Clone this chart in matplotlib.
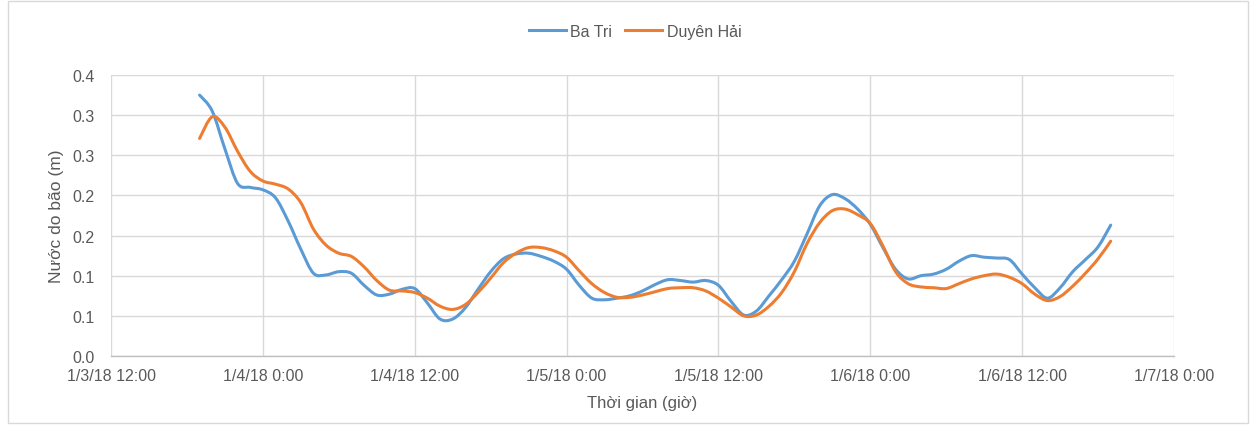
import matplotlib
matplotlib.use("Agg")
import matplotlib.pyplot as plt
import matplotlib.dates as mdates
from matplotlib.patches import Rectangle, PathPatch
from matplotlib.path import Path
from matplotlib.lines import Line2D
import numpy as np
import pandas as pd

# ---- data ----
series_names = ["Ba Tri", "Duyên Hải"]
start_time = "2018-01-03 19:00"
ba_tri = [0.325, 0.305, 0.258, 0.215, 0.210, 0.207, 0.197, 0.168, 0.133, 0.103,
          0.101, 0.105, 0.103, 0.088, 0.076, 0.077, 0.083, 0.084, 0.066, 0.046,
          0.046, 0.060, 0.083, 0.105, 0.121, 0.127, 0.128, 0.124, 0.118, 0.108,
          0.088, 0.072, 0.070, 0.072, 0.075, 0.081, 0.089, 0.095, 0.094, 0.092,
          0.094, 0.088, 0.068, 0.051, 0.056, 0.075, 0.095, 0.118, 0.152, 0.187,
          0.201, 0.196, 0.183, 0.164, 0.135, 0.108, 0.096, 0.100, 0.102, 0.108,
          0.118, 0.125, 0.123, 0.122, 0.120, 0.102, 0.085, 0.072, 0.085, 0.105,
          0.120, 0.136, 0.163]
duyen_hai = [0.271, 0.298, 0.285, 0.255, 0.230, 0.218, 0.214, 0.208, 0.191, 0.158,
             0.138, 0.128, 0.124, 0.111, 0.094, 0.082, 0.081, 0.079, 0.072, 0.062,
             0.058, 0.064, 0.079, 0.097, 0.116, 0.128, 0.135, 0.135, 0.131, 0.123,
             0.106, 0.090, 0.079, 0.073, 0.073, 0.076, 0.080, 0.084, 0.085, 0.085,
             0.081, 0.072, 0.061, 0.050, 0.051, 0.062, 0.079, 0.105, 0.140, 0.166,
             0.181, 0.183, 0.176, 0.165, 0.137, 0.105, 0.090, 0.086, 0.085, 0.084,
             0.090, 0.096, 0.100, 0.102, 0.098, 0.090, 0.077, 0.069, 0.074, 0.087,
             0.103, 0.121, 0.143]
x_ticks = ["2018-01-03 12:00", "2018-01-04 00:00", "2018-01-04 12:00", "2018-01-05 00:00",
           "2018-01-05 12:00", "2018-01-06 00:00", "2018-01-06 12:00", "2018-01-07 00:00"]
x_tick_labels = ["1/3/18 12:00", "1/4/18 0:00", "1/4/18 12:00", "1/5/18 0:00",
                 "1/5/18 12:00", "1/6/18 0:00", "1/6/18 12:00", "1/7/18 0:00"]
y_ticks = [0.0, 0.05, 0.10, 0.15, 0.20, 0.25, 0.30, 0.35]
y_tick_labels = ["0.0", "0.1", "0.1", "0.2", "0.2", "0.3", "0.3", "0.4"]
x_label = "Thời gian (giờ)"
y_label = "Nước do bão (m)"

# ---- plot ----
plt.rcParams['font.family'] = ['Liberation Sans', 'DejaVu Sans']
times = pd.date_range(start_time, periods=len(ba_tri), freq="h")
xt = pd.to_datetime(x_ticks)


def smooth_path(x, y):
    """Bezier path through the data points (Excel-style smoothed line)."""
    p = np.column_stack([x, y])
    n = len(p)
    verts = [p[0]]
    codes = [Path.MOVETO]
    for i in range(n - 1):
        p0 = p[i - 1] if i > 0 else p[i]
        p1 = p[i]
        p2 = p[i + 1]
        p3 = p[i + 2] if i + 2 < n else p[i + 1]
        c1 = p1 + (p2 - p0) / 6.0
        c2 = p2 - (p3 - p1) / 6.0
        verts += [c1, c2, p2]
        codes += [Path.CURVE4] * 3
    return Path(verts, codes)


fig = plt.figure(figsize=(12.5, 4.27), dpi=100)
ax = fig.add_axes([0.0888, 0.164, 0.9392 - 0.0888, 0.822 - 0.164])

colors = ["#5B9BD5", "#ED7D31"]
xnum = mdates.date2num(times)
handles = []
for name, vals, c in zip(series_names, [ba_tri, duyen_hai], colors):
    patch = PathPatch(smooth_path(xnum, np.asarray(vals)), facecolor="none",
                      edgecolor=c, lw=2.2, capstyle="round", joinstyle="round")
    ax.add_patch(patch)
    handles.append(Line2D([], [], color=c, lw=2.2, label=name))

ax.xaxis_date()
ax.set_xlim(xt[0], xt[-1])
ax.set_ylim(y_ticks[0], y_ticks[-1])
ax.set_xticks(xt)
ax.set_xticklabels(x_tick_labels)
ax.set_yticks(y_ticks)
ax.set_yticklabels(y_tick_labels)
ax.grid(True, color="#D9D9D9", lw=1.0)
ax.set_axisbelow(True)
for s in ["top", "right", "left"]:
    ax.spines[s].set_visible(False)
ax.spines["bottom"].set_color("#BFBFBF")
ax.spines["bottom"].set_linewidth(1.0)
ax.tick_params(axis="both", length=0, labelsize=11.5, labelcolor="#595959")
ax.tick_params(axis="x", pad=9)
ax.tick_params(axis="y", pad=12)
ax.set_xlabel(x_label, fontsize=12, color="#595959", labelpad=8)
ax.set_ylabel(y_label, fontsize=12.5, color="#595959", labelpad=6)

leg = fig.legend(handles=handles, loc="upper center", bbox_to_anchor=(0.508, 0.975),
                 ncol=2, frameon=False, fontsize=11.5, handlelength=2.3,
                 columnspacing=0.8, handletextpad=0.3)
for t in leg.get_texts():
    t.set_color("#595959")

fig.patches.append(Rectangle((0.006, 0.006), 0.992, 0.99, transform=fig.transFigure,
                             fill=False, edgecolor="#D9D9D9", lw=1.0))

fig.savefig("out.png", dpi=100, facecolor="white")
